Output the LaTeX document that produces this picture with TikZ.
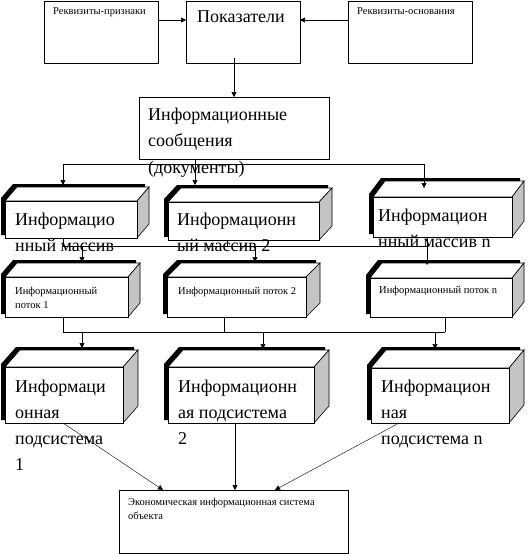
\documentclass[tikz,border=0pt]{standalone}
\usepackage{fontspec}
\setmainfont{Liberation Serif}
\usetikzlibrary{arrows.meta}
\definecolor{sidegray}{RGB}{196,196,196}
\tikzset{
  thinl/.style={line width=0.6pt},
  arr/.style={thinl,-{Triangle[length=5pt,width=5pt]}},
  plainbox/.style={thinl,draw,fill=white,inner sep=0pt,outer sep=0pt,anchor=north west},
  bigtxt/.style={inner sep=0pt,anchor=base west,font=\fontsize{18}{26}\selectfont},
  smalltxt/.style={inner sep=0pt,anchor=base west,font=\fontsize{10.5}{14}\selectfont},
}
% name, x1, y1, x2, y2, dx, dy  (pixel coordinates, y downwards)
\newcommand{\cubebox}[7]{%
  \begin{scope}[shift={(-4,-3)}]
    \fill[black] (#2,#3) -- ++(#6,-#7) -- ({#4+#6},{#3-#7}) -- ({#4+#6},{#5-#7}) -- (#4,#5) -- (#2,#5) -- cycle;
  \end{scope}
  \draw[thinl,fill=white] (#2,#3) -- ++(#6,-#7) -- ({#4+#6},{#3-#7}) -- (#4,#3) -- cycle;
  \draw[thinl,fill=sidegray] (#4,#3) -- ({#4+#6},{#3-#7}) -- ({#4+#6},{#5-#7}) -- (#4,#5) -- cycle;
  \node[plainbox,minimum width={(#4-#2)*1pt},minimum height={(#5-#3)*1pt}] (#1) at (#2,#3) {};
}
\begin{document}
\begin{tikzpicture}[x=1pt,y=-1pt]
\useasboundingbox (0,0) rectangle (528,554);

% top row
\node[plainbox,minimum width=114pt,minimum height=62pt] (rp) at (44,1) {};
\node[plainbox,minimum width=114pt,minimum height=62pt] (pok) at (186,1) {};
\node[plainbox,minimum width=124pt,minimum height=62pt] (ro) at (348,1) {};
\node[smalltxt] (trp) at (53,14) {Реквизиты-признаки};
\node[bigtxt] (tpok) at (197,23) {Показатели};
\node[smalltxt] (tro) at (357,14) {Реквизиты-основания};

% messages
\node[plainbox,minimum width=190pt,minimum height=62pt] (msg) at (139,97) {};
\node[bigtxt] (tmsg1) at (148,120) {Информационные};
\node[bigtxt] (tmsg2) at (148,146) {сообщения};
\node[bigtxt] (tmsg3) at (148,173) {(документы)};

% arrays
\cubebox{m1}{5}{201}{137}{238}{12}{14}
\cubebox{m2}{168}{202}{319}{240}{13}{14}
\cubebox{m3}{373}{197}{512}{237}{12}{16}
\node[bigtxt] (tm1a) at (15,225) {Информацио};
\node[bigtxt] (tm1b) at (15,251) {нный массив};
\node[bigtxt] (tm1c) at (15,277) {1};
\node[bigtxt] (tm2a) at (177,225) {Информационн};
\node[bigtxt] (tm2b) at (177,251) {ый массив 2};
\node[bigtxt] (tm3a) at (378,221) {Информацион};
\node[bigtxt] (tm3b) at (378,247) {нный массив n};
\node[bigtxt] (tm3c) at (378,273) {(файлы)};

% flows
\cubebox{p1}{5}{277}{128}{317}{12}{14}
\cubebox{p2}{167}{277}{306}{317}{14}{14}
\cubebox{p3}{370}{278}{512}{317}{12}{15}
\node[smalltxt] (tp1a) at (15,294) {Информационный};
\node[smalltxt] (tp1b) at (15,308) {поток 1};
\node[smalltxt] (tp2) at (178,294) {Информационный поток 2};
\node[smalltxt] (tp3) at (379,293) {Информационный поток n};

% subsystems
\cubebox{s1}{5}{367}{123}{423}{15}{17}
\cubebox{s2}{168}{367}{314}{423}{15}{17}
\cubebox{s3}{371}{368}{509}{423}{15}{18}
\node[bigtxt] (ts1a) at (15,392) {Информаци};
\node[bigtxt] (ts1b) at (15,418) {онная};
\node[bigtxt] (ts1c) at (15,444) {подсистема};
\node[bigtxt] (ts1d) at (15,470) {1};
\node[bigtxt] (ts2a) at (178,392) {Информационн};
\node[bigtxt] (ts2b) at (178,418) {ая подсистема};
\node[bigtxt] (ts2c) at (178,444) {2};
\node[bigtxt] (ts3a) at (381,392) {Информацион};
\node[bigtxt] (ts3b) at (381,418) {ная};
\node[bigtxt] (ts3c) at (381,444) {подсистема n};

% economic IS
\node[plainbox,minimum width=229pt,minimum height=63pt] (eis) at (119,490) {};
\node[smalltxt] (teis1) at (128,505) {Экономическая информационная система};
\node[smalltxt] (teis2) at (128,519) {объекта};

% ---- connectors ----
\draw[arr] ([yshift=12pt]rp.east) -- ([yshift=12pt]pok.west);
\draw[arr] ([yshift=12pt]ro.west) -- ([yshift=12pt]pok.east);
\coordinate (pokout) at (234,58);
\draw[arr] (pokout) -- (pokout |- msg.north);

% bus 1
\coordinate (b1l) at (63,164);
\coordinate (b1m) at (195,164);
\coordinate (b1r) at (424,164);
\coordinate (m1in) at (63,185);
\coordinate (m2in) at (195,185);
\coordinate (m3in) at (424,188);
\draw[thinl] (b1l) -- (b1r);
\draw[arr] (b1m |- msg.south) -- (m2in);
\draw[arr] (b1l) -- (m1in);
\draw[arr] (b1r) -- (m3in);

% bus 2
\coordinate (b2a) at (63,246);
\coordinate (b2b) at (227,246);
\coordinate (b2c) at (427,246);
\coordinate (d2a) at (82,246);
\coordinate (d2b) at (255,246);
\coordinate (p1in) at (82,262);
\coordinate (p2in) at (255,262);
\coordinate (p3in) at (427,265);
\draw[thinl] (b2a) -- (b2c);
\draw[thinl] (b2a |- m1.south) -- (b2a);
\draw[thinl] (b2b |- m2.south) -- (b2b);
\draw[thinl] (b2c |- m3.south) -- (b2c);
\draw[arr] (d2a) -- (p1in);
\draw[arr] (d2b) -- (p2in);
\draw[arr] (b2c) -- (p3in);

% bus 3
\coordinate (b3a) at (63,332);
\coordinate (b3b) at (224,332);
\coordinate (b3c) at (445,332);
\coordinate (d3a) at (82,332);
\coordinate (d3b) at (263,332);
\coordinate (d3c) at (435,332);
\coordinate (s1in) at (82,348);
\coordinate (s2in) at (263,349);
\coordinate (s3in) at (435,349);
\draw[thinl] (b3a) -- (b3c);
\draw[thinl] (b3a |- p1.south) -- (b3a);
\draw[thinl] (b3b |- p2.south) -- (b3b);
\draw[thinl] (b3c |- p3.south) -- (b3c);
\draw[arr] (d3a) -- (s1in);
\draw[arr] (d3b) -- (s2in);
\draw[arr] (d3c) -- (s3in);

% to economic IS
\coordinate (s1out) at (63,423);
\coordinate (s2out) at (235,423);
\coordinate (s3out) at (399,423);
\coordinate (e1) at (163,490);
\coordinate (e2) at (235,490);
\coordinate (e3) at (275,490);
\draw[arr,line width=0.4pt] (s1out) -- (e1);
\draw[arr] (s2out) -- (e2);
\draw[arr,line width=0.4pt] (s3out) -- (e3);
\end{tikzpicture}
\end{document}
